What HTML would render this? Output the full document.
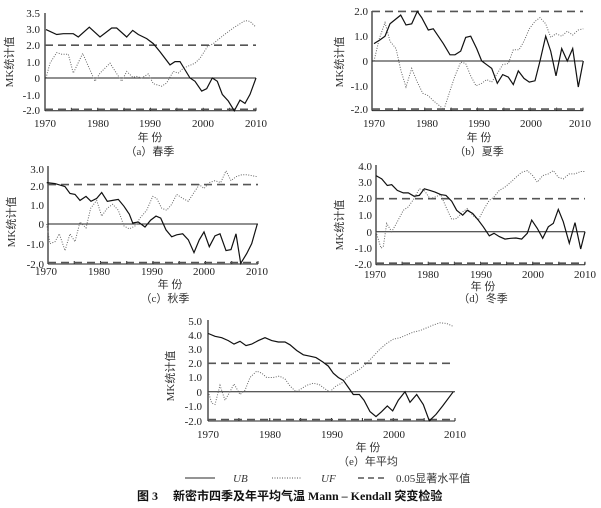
<!DOCTYPE html>
<html><head><meta charset="utf-8"><style>
body{margin:0;background:#fff}
svg{display:block}
text{font-family:"Liberation Serif","Noto Serif CJK SC",serif;fill:#222}
.t{font-size:11px}
.c{font-family:"Liberation Serif","Noto Sans CJK SC",serif;font-size:11px;fill:#333}
</style></head><body>
<svg id="s" width="601" height="508" viewBox="0 0 601 508" xmlns="http://www.w3.org/2000/svg">
<g class="t" text-anchor="end">
<text x="40" y="17">3.5</text><text x="40" y="33">3.0</text><text x="40" y="49">2.0</text><text x="40" y="66">1.0</text><text x="40" y="82">0</text><text x="40" y="99">-1.0</text><text x="40" y="114">-2.0</text>
</g>
<g class="t" text-anchor="middle">
<text x="45" y="127">1970</text><text x="98" y="127">1980</text><text x="150" y="127">1990</text><text x="203" y="127">2000</text><text x="256" y="127">2010</text>
</g>
<text class="c" x="150" y="141" text-anchor="middle">年 份</text>
<text class="c" x="150" y="155" text-anchor="middle">（a）春季</text>
<text class="c" transform="translate(13,62) rotate(-90)" text-anchor="middle">MK统计值</text>

<g class="t" text-anchor="end">
<text x="368" y="15">2.0</text><text x="368" y="40">1.0</text><text x="368" y="65">0</text><text x="368" y="90">-1.0</text><text x="368" y="113">-2.0</text>
</g>
<g class="t" text-anchor="middle">
<text x="374" y="127">1970</text><text x="427" y="127">1980</text><text x="479" y="127">1990</text><text x="531" y="127">2000</text><text x="580" y="127">2010</text>
</g>
<text class="c" x="479" y="141" text-anchor="middle">年 份</text>
<text class="c" x="479" y="155" text-anchor="middle">（b）夏季</text>
<text class="c" transform="translate(343,62) rotate(-90)" text-anchor="middle">MK统计值</text>

<g class="t" text-anchor="end">
<text x="44" y="173">3.0</text><text x="44" y="190">2.0</text><text x="44" y="209">1.0</text><text x="44" y="228">0</text><text x="44" y="248">-1.0</text><text x="44" y="268">-2.0</text>
</g>
<g class="t" text-anchor="middle">
<text x="46" y="275">1970</text><text x="99" y="275">1980</text><text x="152" y="275">1990</text><text x="204" y="275">2000</text><text x="257" y="275">2010</text>
</g>
<text class="c" x="170" y="288" text-anchor="middle">年 份</text>
<text class="c" x="165" y="302" text-anchor="middle">（c）秋季</text>
<text class="c" transform="translate(15,222) rotate(-90)" text-anchor="middle">MK统计值</text>

<g class="t" text-anchor="end">
<text x="372" y="170">4.0</text><text x="372" y="186">3.0</text><text x="372" y="202">2.0</text><text x="372" y="219">1.0</text><text x="372" y="236">0</text><text x="372" y="252">-1.0</text><text x="372" y="268">-2.0</text>
</g>
<g class="t" text-anchor="middle">
<text x="375" y="278">1970</text><text x="428" y="278">1980</text><text x="481" y="278">1990</text><text x="533" y="278">2000</text><text x="585" y="278">2010</text>
</g>
<text class="c" x="483" y="290" text-anchor="middle">年 份</text>
<text class="c" x="483" y="302" text-anchor="middle">（d）冬季</text>
<text class="c" transform="translate(343,225) rotate(-90)" text-anchor="middle">MK统计值</text>

<g class="t" text-anchor="end">
<text x="202" y="325">5.0</text><text x="202" y="339">4.0</text><text x="202" y="353">3.0</text><text x="202" y="367">2.0</text><text x="202" y="381">1.0</text><text x="202" y="396">0</text><text x="202" y="410">-1.0</text><text x="202" y="425">-2.0</text>
</g>
<g class="t" text-anchor="middle">
<text x="208" y="438">1970</text><text x="270" y="438">1980</text><text x="332" y="438">1990</text><text x="394" y="438">2000</text><text x="455" y="438">2010</text>
</g>
<text class="c" x="368" y="451" text-anchor="middle">年 份</text>
<text class="c" x="368" y="465" text-anchor="middle">（e）年平均</text>
<text class="c" transform="translate(174,376) rotate(-90)" text-anchor="middle">MK统计值</text>

<line x1="185" y1="478" x2="215" y2="478" stroke="#555" stroke-width="1.2"/>
<text class="c" x="233" y="482" font-style="italic">UB</text>
<line x1="272" y1="478" x2="302" y2="478" stroke="#555" stroke-width="1" stroke-dasharray="1,1.5"/>
<text class="c" x="321" y="482" font-style="italic">UF</text>
<line x1="358" y1="478" x2="388" y2="478" stroke="#555" stroke-width="1.5" stroke-dasharray="6,4"/>
<text class="c" x="396" y="482">0.05显著水平值</text>
<text x="137" y="500" style="font-family:'Liberation Serif','Noto Sans CJK SC',serif;font-size:12px;font-weight:bold;fill:#111">图 3　 新密市四季及年平均气温 Mann – Kendall 突变检验</text>
<g id="g"></g>
</svg>
<script>
var P=[
{ox:0,oy:0,x0:45,x1:256,yt:13,yb:110,z:78,k:16.4,
ub:[[138,2.95],[170,2.65],[190,2.7],[220,2.7],[235,2.5],[268,3.1],[300,2.5],[335,3.05],[350,3.05],[380,2.5],[398,2.9],[415,2.65],[440,2.4],[460,2.1],[480,1.6],[510,0.8],[525,1.0],[540,1.0],[570,0],[585,-0.2],[605,-0.8],[620,-0.65],[637,0],[652,-0.2],[667,-1.0],[685,-1.4],[703,-2.0],[720,-1.35],[735,-1.55],[750,-1.0],[768,0]],
uf:[[138,0],[150,0.9],[170,1.55],[185,1.45],[205,1.45],[220,0.3],[248,1.5],[285,-0.2],[300,0.3],[330,0.9],[365,-0.2],[380,0.4],[398,0.05],[410,0.1],[425,0.0],[445,0.25],[460,-0.35],[485,-0.5],[500,-0.3],[520,0.4],[535,0.3],[550,0.6],[585,0.9],[600,1.2],[622,1.9],[640,2.1],[670,2.6],[700,3.05],[735,3.5],[750,3.45],[768,3.1]]},
{ox:300,oy:0,x0:372,x1:583,yt:11,yb:109,z:61,k:24.8,
ub:[[222,0.7],[240,0.85],[255,1.0],[270,1.5],[302,1.85],[318,1.45],[335,1.5],[352,2.0],[365,1.75],[385,1.25],[400,1.3],[430,0.7],[450,0.25],[465,0.25],[482,0.4],[497,0.95],[512,1.0],[530,0.5],[545,0.0],[560,-0.15],[575,-0.3],[592,-0.9],[608,-0.55],[625,-0.65],[640,-0.95],[655,-0.4],[672,-0.7],[688,-0.85],[705,-0.8],[720,0.0],[737,1.0],[752,0.4],[768,-0.6],[785,0.5],[802,0.0],[818,0.5],[835,-1.05],[850,0]],
uf:[[222,0],[238,0.9],[255,1.55],[270,0.8],[288,0.5],[303,-0.4],[318,-1.05],[335,-0.3],[350,-0.8],[368,-1.3],[385,-1.4],[400,-1.6],[418,-1.8],[432,-1.95],[450,-1.2],[465,-0.6],[482,-0.05],[497,-0.1],[512,-0.6],[528,-1.0],[545,-0.9],[560,-0.75],[575,-0.85],[592,-0.5],[608,-0.15],[625,-0.1],[640,0.45],[657,0.45],[672,0.8],[688,1.3],[705,1.6],[720,1.75],[737,1.5],[752,0.95],[768,1.1],[785,1.0],[802,1.2],[818,1.05],[835,1.25],[850,1.3]]},
{ox:0,oy:150,x0:48,x1:258,yt:166,yb:264,z:224,k:19.7,
ub:[[140,2.1],[165,2.05],[195,1.9],[210,1.55],[225,1.5],[240,1.2],[258,1.4],[273,1.15],[290,1.3],[305,1.6],[322,1.15],[338,1.2],[355,1.25],[372,0.9],[388,0.5],[398,0.05],[415,0.1],[435,-0.15],[452,0.2],[468,0.4],[482,0.3],[498,-0.3],[515,-0.65],[530,-0.55],[548,-0.5],[565,-0.8],[582,-1.45],[598,-0.8],[612,-0.4],[628,-1.15],[645,-0.6],[660,-0.5],[678,-1.35],[693,-1.3],[708,-0.5],[722,-2.0],[740,-1.5],[755,-1.0],[772,0]],
uf:[[140,0],[150,-1.0],[165,-0.9],[178,-0.5],[195,-1.35],[210,-0.5],[225,-0.9],[240,0.1],[258,-0.2],[272,0.8],[290,1.2],[305,0.4],[322,0.8],[338,1.0],[355,0.7],[372,-0.1],[388,-0.25],[405,-0.1],[420,0.3],[440,0.7],[458,1.4],[470,1.3],[485,0.8],[500,0.7],[515,1.0],[530,1.5],[548,1.3],[565,1.15],[582,1.6],[598,2.0],[612,1.8],[628,2.1],[645,2.2],[662,2.1],[678,2.7],[693,2.2],[708,2.4],[725,2.5],[742,2.5],[772,2.4]]},
{ox:300,oy:150,x0:376,x1:585,yt:165,yb:264,z:231.7,k:16.5,
ub:[[228,3.4],[245,3.2],[262,2.8],[275,2.85],[292,2.5],[310,2.35],[325,2.35],[342,2.15],[358,2.2],[373,2.6],[390,2.5],[405,2.4],[422,2.25],[438,2.2],[455,1.85],[470,1.3],[488,1.0],[502,1.3],[518,1.1],[535,0.7],[550,0.3],[568,-0.25],[582,-0.1],[598,-0.3],[615,-0.45],[632,-0.4],[648,-0.38],[665,-0.45],[682,-0.1],[695,0.7],[712,0.2],[728,-0.4],[745,0.3],[760,0.5],[775,1.35],[790,0.6],[808,-0.7],[825,0.55],[842,-1.05],[855,0]],
uf:[[228,0],[243,-1.0],[250,-0.9],[260,0.5],[275,0.0],[292,0.6],[310,1.3],[325,1.5],[342,2.0],[358,2.6],[373,2.5],[390,2.0],[405,2.1],[422,2.25],[440,1.4],[455,0.75],[470,0.8],[488,1.2],[502,1.4],[518,1.0],[535,0.7],[550,1.3],[568,1.9],[582,2.1],[598,2.5],[615,2.7],[632,3.0],[648,3.3],[665,3.6],[682,3.7],[698,3.4],[712,3.0],[728,3.4],[745,3.5],[760,3.7],[775,3.3],[790,3.2],[808,3.5],[825,3.5],[842,3.65],[855,3.65]]},
{ox:160,oy:315,x0:208,x1:455,yt:320,yb:421,z:391.7,k:14.2,
ub:[[145,4.1],[165,3.9],[185,3.8],[205,3.6],[222,3.35],[240,3.55],[258,3.25],[275,3.35],[295,3.6],[315,3.8],[335,3.6],[355,3.5],[375,3.5],[390,3.3],[410,2.9],[430,2.6],[450,2.5],[468,2.4],[488,2.1],[505,1.8],[520,1.3],[535,1.0],[550,0.8],[565,0.3],[580,-0.2],[598,-0.2],[612,-0.6],[630,-1.4],[648,-1.75],[665,-1.4],[682,-1.0],[698,-1.35],[715,-0.6],[735,0.0],[750,-0.75],[770,-0.2],[790,-0.9],[808,-2.05],[828,-1.6],[848,-1.0],[880,0]],
uf:[[145,0],[155,-0.8],[165,-0.9],[180,0.45],[195,-0.6],[210,0.0],[222,0.55],[240,-0.2],[255,0.1],[270,1.0],[290,1.45],[305,1.3],[320,1.0],[340,1.0],[358,1.1],[375,0.9],[390,0.4],[408,0.0],[420,0.15],[440,0.45],[460,0.6],[478,0.5],[495,0.2],[510,0.0],[528,0.4],[545,0.6],[560,1.0],[580,1.3],[600,1.6],[620,2.0],[640,2.5],[660,3.0],[680,3.4],[700,3.7],[720,3.8],[740,4.0],[760,4.2],[780,4.3],[800,4.5],[820,4.7],[840,4.85],[860,4.8],[880,4.6]]}
];
var g=document.getElementById('g'),h='';
P.forEach(function(p){
 var Y=function(v){return p.z-v*p.k};
 var y2=Y(2),ym=Y(-2),yb=Math.max(p.yb,ym);
 h+='<line x1="'+p.x0+'" y1="'+p.yt+'" x2="'+p.x0+'" y2="'+yb+'" stroke="#222" stroke-width="1.2"/>';
 h+='<line x1="'+p.x0+'" y1="'+yb+'" x2="'+p.x1+'" y2="'+yb+'" stroke="#222" stroke-width="1"/>';
 h+='<line x1="'+p.x0+'" y1="'+p.z+'" x2="'+p.x1+'" y2="'+p.z+'" stroke="#222" stroke-width="1"/>';
 for(var i=0;i<=8;i++){var x=p.x0+(p.x1-p.x0)*i/8;h+='<line x1="'+x+'" y1="'+yb+'" x2="'+x+'" y2="'+(yb-3)+'" stroke="#222"/>';}
 h+='<line x1="'+p.x0+'" y1="'+y2+'" x2="'+p.x1+'" y2="'+y2+'" stroke="#555" stroke-width="1.6" stroke-dasharray="8,5"/>';
 h+='<line x1="'+p.x0+'" y1="'+(yb-1.5)+'" x2="'+p.x1+'" y2="'+(yb-1.5)+'" stroke="#555" stroke-width="1.6" stroke-dasharray="8,5"/>';
 var f=function(a){return a.map(function(q){return (p.ox+q[0]/3).toFixed(1)+','+Y(q[1]).toFixed(1)}).join(' ')};
 h+='<polyline points="'+f(p.uf)+'" fill="none" stroke="#666" stroke-width="1" stroke-dasharray="1,1.5"/>';
 h+='<polyline points="'+f(p.ub)+'" fill="none" stroke="#111" stroke-width="1.2"/>';
});
g.innerHTML=h;
</script>
</body></html>
